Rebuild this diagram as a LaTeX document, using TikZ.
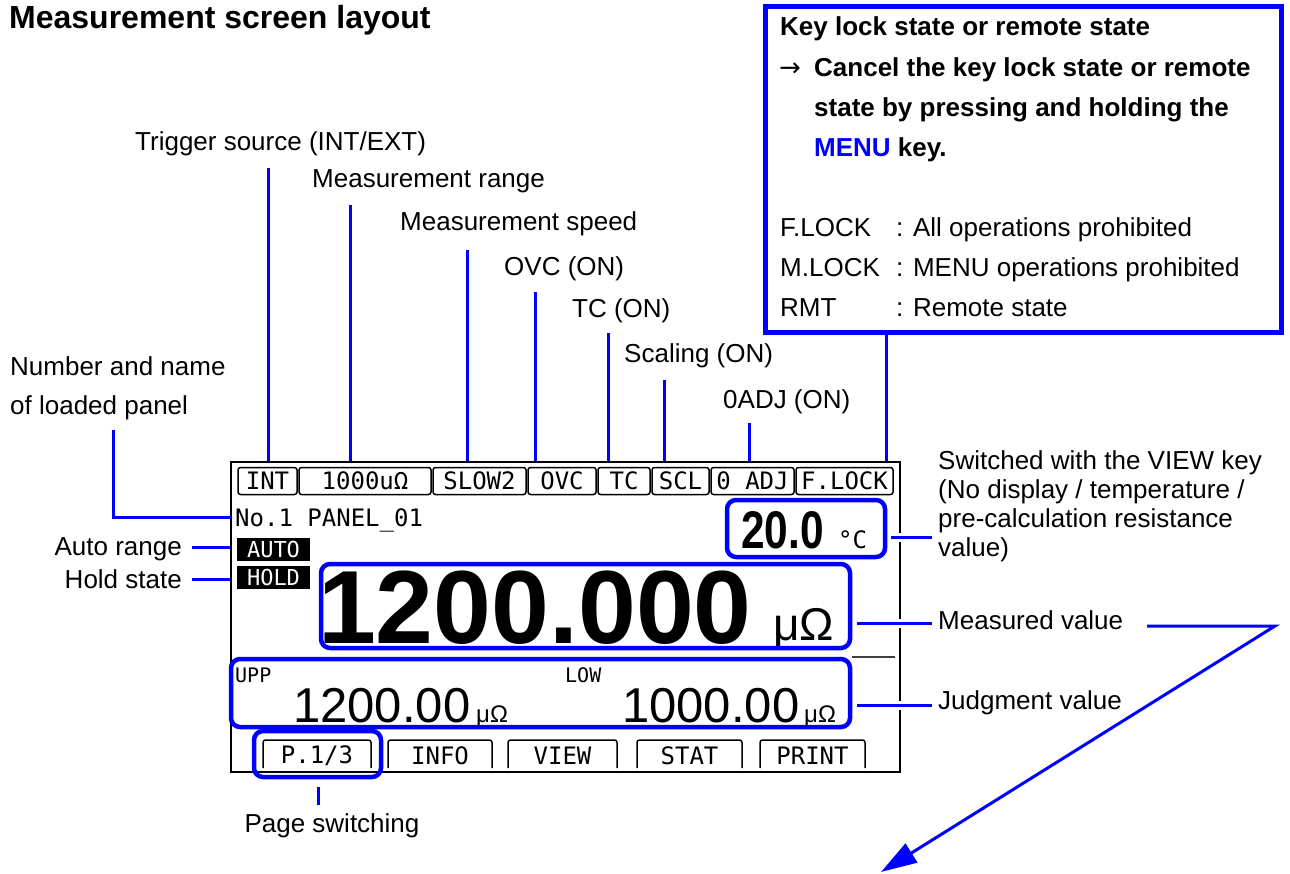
\documentclass[tikz,border=0pt]{standalone}
\usepackage{fontspec}
\usepackage{graphicx}
\setmainfont{Liberation Sans}
\newfontfamily\lcd{DejaVu Sans Mono}
\newfontfamily\symf{DejaVu Sans}
\usetikzlibrary{arrows.meta,calc}
\definecolor{lblue}{RGB}{0,0,255}
\tikzset{
  lbl/.style={anchor=base west, inner sep=0pt, font=\fontsize{26}{31}\selectfont},
  lblr/.style={lbl, anchor=base east},
  blbl/.style={anchor=base west, inner sep=0pt, font=\fontsize{26}{31}\selectfont\bfseries},
  lead/.style={draw=lblue, line width=3pt},
  halo/.style={preaction={draw=white, line width=9pt}},
  hbox/.style={draw=lblue, line width=4.5pt, rounded corners=9pt, inner sep=0pt},
  stat/.style={draw=black, line width=1.5pt, rounded corners=2.5pt, inner sep=0pt, minimum height=27pt, font=\lcd\fontsize{24}{24}\selectfont},
  lcdt/.style={inner sep=0pt, font=\lcd\fontsize{24}{24}\selectfont},
  inv/.style={fill=black, text=white, inner sep=0pt, minimum width=73pt, minimum height=23pt, font=\lcd\fontsize{22}{22}\selectfont},
  btn/.style={draw=black, line width=1.5pt, rounded corners=2.5pt},
}
\begin{document}
\begin{tikzpicture}[x=1pt,y=-1pt]
\useasboundingbox (0,0) rectangle (1290,874);

% title
\node[anchor=base west, inner sep=0pt, font=\fontsize{32}{36}\selectfont\bfseries] (title) at (9,28.5) {Measurement screen layout};

% key lock box
\node[draw=lblue, line width=5pt, minimum width=516pt, minimum height=326pt, inner sep=0pt] (kbox) at (1023,170) {};
\node[blbl] (k1) at (780,35.5) {Key lock state or remote state};
\node[anchor=base west, inner sep=0pt, font=\symf\fontsize{26}{31}\selectfont] (k2a) at (779,76.5) {→};
\node[blbl] (k2) at (814,76.5) {Cancel the key lock state or remote};
\node[blbl] (k3) at (814,116.5) {state by pressing and holding the};
\node[blbl] (k4) at (814,156.5) {{\color{lblue}MENU} key.};
\node[lbl] (k5) at (780,236.5) {F.LOCK};
\node[lbl] (k5d) at (896,236.5) {: All operations prohibited};
\node[lbl] (k6) at (780,276.5) {M.LOCK};
\node[lbl] (k6d) at (896,276.5) {: MENU operations prohibited};
\node[lbl] (k7) at (780,316.5) {RMT};
\node[lbl] (k7d) at (896,316.5) {: Remote state};

% top labels
\node[lbl] (tTrig) at (135,150.4) {Trigger source (INT/EXT)};
\node[lbl] (tRange) at (312,187.4) {Measurement range};
\node[lbl] (tSpeed) at (400,230.4) {Measurement speed};
\node[lbl] (tOvc) at (504,275.4) {OVC (ON)};
\node[lbl] (tTc) at (572,317.4) {TC (ON)};
\node[lbl] (tScl) at (624,362.4) {Scaling (ON)};
\node[lbl] (tAdj) at (723,408.4) {0ADJ (ON)};

% left labels
\node[lbl] (lNum1) at (10,375.4) {Number and name};
\node[lbl] (lNum2) at (10,414.4) {of loaded panel};
\node[lblr] (lAuto) at (182,555) {Auto range};
\node[lblr] (lHold) at (182,588) {Hold state};

% right labels
\node[lbl] (rV1) at (938,469.4) {Switched with the VIEW key};
\node[lbl] (rV2) at (938,498.4) {(No display / temperature /};
\node[lbl] (rV3) at (938,527.4) {pre-calculation resistance};
\node[lbl] (rV4) at (938,556.4) {value)};
\node[lbl] (rMv) at (938,629.4) {Measured value};
\node[lbl] (rJv) at (938,709.4) {Judgment value};
\node[lbl, anchor=base] (bPage) at (332,832.4) {Page switching};

% screen
\node[draw=black, line width=2pt, minimum width=669pt, minimum height=310pt, inner sep=0pt] (scr) at (565.5,617) {};

% status bar
\node[stat, minimum width=59pt] (sInt) at (267.5,481) {INT};
\node[stat, minimum width=132pt] (sRng) at (365,481) {1000uΩ};
\node[stat, minimum width=93pt] (sSpd) at (479.5,481) {SLOW2};
\node[stat, minimum width=68pt] (sOvc) at (562,481) {OVC};
\node[stat, minimum width=52pt] (sTc) at (624,481) {TC};
\node[stat, minimum width=57pt] (sScl) at (680.5,481) {SCL};
\node[stat, minimum width=83pt] (sAdj) at (752.5,481) {0 ADJ};
\node[stat, minimum width=97pt] (sLock) at (844.5,481) {F.LOCK};

% screen content
\node[lcdt, anchor=base west] (panel) at (235,526) {No.1 PANEL\_01};
\node[inv] (auto) at (273.5,549.5) {AUTO};
\node[inv] (hold) at (273.5,577.5) {HOLD};
\node[anchor=base west, inner sep=0pt, font=\fontsize{53}{53}\selectfont\bfseries] (temp) at (741,548) {\scalebox{0.8}[1]{20.0}};
\node[lcdt, anchor=base west, font=\lcd\fontsize{24}{24}\selectfont] (tempu) at (838,548) {°C};
\node[anchor=base, inner sep=0pt, font=\fontsize{104}{104}\selectfont\bfseries] (mv) at (535,643) {1200.000};
\node[anchor=base west, inner sep=0pt, font=\fontsize{46}{46}\selectfont] (mvu) at (773,640) {μΩ};
\draw[line width=2.5pt, black!75] (852,657) -- (895,657);
\node[lcdt, anchor=base west, font=\lcd\fontsize{20}{20}\selectfont] (upp) at (235,682) {UPP};
\node[lcdt, anchor=base west, font=\lcd\fontsize{20}{20}\selectfont] (low) at (565,682) {LOW};
\node[anchor=base west, inner sep=0pt, font=\fontsize{49}{49}\selectfont] (uppv) at (293,722) {1200.00};
\node[anchor=base west, inner sep=0pt, font=\fontsize{24}{24}\selectfont] (uppu) at (476,722) {μΩ};
\node[anchor=base west, inner sep=0pt, font=\fontsize{49}{49}\selectfont] (lowv) at (622,722) {1000.00};
\node[anchor=base west, inner sep=0pt, font=\fontsize{24}{24}\selectfont] (lowu) at (804,722) {μΩ};

% soft keys
\draw[btn] (263,768) |- (317,740) -| (371,768);
\draw[btn] (388,768) |- (440,740) -| (492,768);
\draw[btn] (508,768) |- (562,740) -| (617,768);
\draw[btn] (637,768) |- (689,740) -| (742,768);
\draw[btn] (760,768) |- (812,740) -| (865,768);
\node[lcdt] (kP) at (317,756) {P.1/3};
\node[lcdt] (kI) at (440,756) {INFO};
\node[lcdt] (kV) at (562.5,756) {VIEW};
\node[lcdt] (kS) at (689.5,756) {STAT};
\node[lcdt] (kR) at (812.5,756) {PRINT};

% blue highlight boxes
\node[hbox, minimum width=158pt, minimum height=57pt] (tbox) at (806,528.5) {};
\node[hbox, minimum width=529pt, minimum height=84pt] (bbox) at (585.5,606) {};
\node[hbox, minimum width=619pt, minimum height=68pt] (jbox) at (540.5,693) {};
\node[hbox, minimum width=127pt, minimum height=46pt] (pbox) at (317.5,754) {};

% top leaders
\coordinate (cTrig) at (268,168);
\coordinate (cRange) at (350,205);
\coordinate (cSpeed) at (467,250);
\coordinate (cOvc) at (535,292);
\coordinate (cTc) at (608,333);
\coordinate (cScl) at (664,380);
\coordinate (cAdj) at (749,423);
\coordinate (cLock) at (886,333);
\foreach \c in {cTrig,cRange,cSpeed,cOvc,cTc,cScl,cAdj,cLock}
  \draw[lead] (\c) -- (\c |- scr.north);

% left leaders
\coordinate (cNum) at (113,430);
\coordinate (cNumEnd) at (231,517);
\draw[lead] (cNum) |- (cNumEnd);
\coordinate (cAuto) at (192,547);
\draw[lead] (cAuto) -- (cAuto -| scr.west);
\coordinate (cHold) at (192,579);
\draw[lead] (cHold) -- (cHold -| scr.west);

% right leaders
\coordinate (cView) at (932,537);
\draw[lead, halo] ($(tbox.east |- cView)+(4,0)$) -- (cView);
\coordinate (cMv) at (932,623);
\draw[lead, halo] ($(bbox.east |- cMv)+(5,0)$) -- (cMv);
\coordinate (cJv) at (932,705);
\draw[lead, halo] ($(jbox.east |- cJv)+(5,0)$) -- (cJv);

% page leader
\coordinate (cPage) at (318,805);
\draw[lead] ($(pbox.south)+(0.5,8)$) -- (cPage);

% arrow
\coordinate (aS) at (1147,626);
\coordinate (aK) at (1275,626);
\coordinate (aT) at (881,872);
\draw[lead, -{Triangle[length=36pt,width=22pt]}] (aS) -- (aK) -- (aT);
\end{tikzpicture}
\end{document}
